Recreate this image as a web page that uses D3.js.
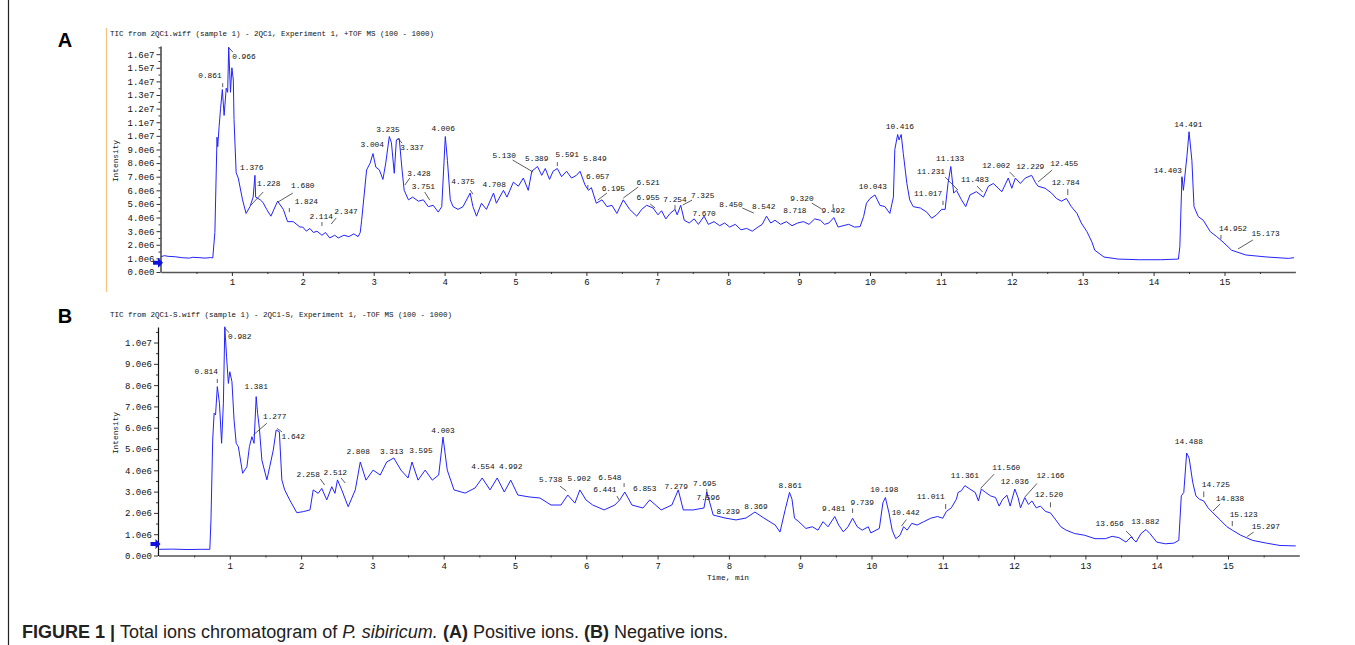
<!DOCTYPE html>
<html><head><meta charset="utf-8">
<script src="https://cdn.jsdelivr.net/npm/d3@7"></script>
<style>body{margin:0;background:#fff}svg{display:block}</style>
</head><body>
<svg id="chart" width="1355" height="645"></svg>
<script>
// ---------- DATA (time in min, intensity in units of 1e6 counts) ----------
const timeA = [0.0,0.05,0.10,0.20,0.30,0.40,0.45,0.55,0.62,0.70,0.73,0.76,0.79,0.80,0.82,0.84,0.865,0.89,0.92,0.94,0.955,0.98,1.0,1.02,1.03,1.06,1.09,1.15,1.2,1.255,1.30,1.325,1.335,1.40,1.44,1.49,1.55,1.645,1.725,1.785,1.865,1.96,2.0,2.05,2.1,2.15,2.2,2.27,2.32,2.38,2.45,2.5,2.58,2.65,2.72,2.78,2.81,2.83,2.90,2.95,2.99,3.03,3.08,3.13,3.17,3.22,3.25,3.29,3.32,3.36,3.40,3.43,3.49,3.55,3.63,3.70,3.77,3.84,3.91,3.96,4.01,4.04,4.08,4.12,4.19,4.26,4.36,4.40,4.45,4.52,4.59,4.69,4.73,4.83,4.88,4.97,5.04,5.11,5.18,5.23,5.31,5.37,5.42,5.48,5.53,5.59,5.65,5.72,5.79,5.86,5.91,5.98,6.03,6.07,6.14,6.22,6.29,6.36,6.43,6.52,6.61,6.71,6.78,6.85,6.94,7.01,7.06,7.12,7.18,7.25,7.28,7.33,7.38,7.45,7.52,7.58,7.66,7.72,7.8,7.88,7.95,8.02,8.1,8.18,8.26,8.34,8.42,8.48,8.54,8.6,8.66,8.74,8.82,8.9,8.98,9.06,9.14,9.22,9.3,9.36,9.42,9.49,9.55,9.62,9.7,9.78,9.86,9.91,9.95,10.0,10.07,10.14,10.21,10.28,10.33,10.35,10.39,10.41,10.44,10.47,10.52,10.56,10.61,10.71,10.80,10.87,10.94,11.01,11.06,11.10,11.14,11.18,11.22,11.29,11.35,11.41,11.50,11.60,11.67,11.74,11.86,11.95,12.0,12.05,12.12,12.19,12.28,12.33,12.37,12.47,12.56,12.63,12.70,12.77,12.84,12.92,12.98,13.06,13.13,13.17,13.3,13.5,13.8,14.1,14.35,14.37,14.40,14.42,14.47,14.50,14.54,14.57,14.63,14.70,14.80,14.89,14.98,15.10,15.3,15.6,15.9,15.98];
const intensityA = [1.13,1.20,1.15,1.12,1.05,1.02,1.08,1.05,1.02,1.06,1.03,2.9,9.9,9.2,10.7,12.0,13.4,11.5,13.5,13.2,16.5,13.2,15.0,14.1,11.2,7.3,6.9,5.3,4.3,4.8,5.5,7.1,5.5,5.3,5.1,4.6,4.1,5.2,4.6,3.7,3.7,3.3,3.3,3.0,3.2,2.9,3.0,2.7,2.9,2.5,2.7,2.5,2.7,2.6,2.8,2.6,2.9,3.8,7.5,8.0,8.7,7.7,7.5,6.8,8.0,9.95,9.5,7.25,9.7,9.8,7.5,6.0,5.3,5.5,5.2,5.3,4.8,4.9,4.4,4.8,9.95,8.2,5.3,4.8,4.6,4.8,5.8,4.8,4.1,5.05,4.6,5.8,5.05,6.0,5.5,6.6,6.3,6.9,6.0,7.4,7.75,7.1,7.6,6.8,7.4,7.6,7.0,7.4,6.9,7.1,7.4,6.4,6.0,6.2,5.05,5.3,4.8,4.9,4.3,5.3,4.6,4.1,4.6,4.9,4.7,4.2,4.5,3.9,4.3,4.6,4.2,4.9,3.8,3.6,3.9,3.5,4.1,3.5,3.7,3.4,3.6,3.3,3.5,3.1,3.2,3.0,3.3,3.5,4.1,3.6,3.8,3.5,3.7,3.4,3.6,3.7,3.5,3.9,3.8,3.5,3.6,4.0,3.3,3.4,3.5,3.3,3.33,4.07,5.05,5.4,5.66,4.9,4.8,4.3,5.5,9.0,10.1,9.7,10.1,8.7,6.5,5.3,4.8,4.7,4.4,3.95,4.2,4.6,4.6,6.5,7.75,5.8,6.0,5.3,4.8,5.66,5.9,5.5,6.3,6.5,5.9,6.9,6.15,6.9,6.5,6.9,7.1,6.6,6.3,6.15,5.8,5.4,5.2,5.4,4.8,4.3,3.6,2.96,2.2,1.6,1.1,0.95,0.9,0.9,0.95,1.86,7.0,6.0,8.5,10.3,8.2,4.8,4.07,3.8,2.96,2.6,2.2,1.6,1.25,1.1,1.0,1.05];

const timeB = [0.01,0.20,0.40,0.60,0.72,0.736,0.76,0.78,0.80,0.825,0.855,0.885,0.91,0.93,0.955,0.98,1.0,1.03,1.06,1.09,1.12,1.18,1.24,1.275,1.31,1.34,1.37,1.39,1.415,1.45,1.52,1.56,1.61,1.65,1.695,1.73,1.77,1.84,1.94,2.03,2.125,2.17,2.24,2.29,2.36,2.43,2.475,2.51,2.57,2.66,2.76,2.83,2.91,3.01,3.11,3.20,3.30,3.40,3.50,3.555,3.64,3.74,3.84,3.93,3.99,4.05,4.145,4.30,4.44,4.54,4.65,4.75,4.85,4.94,5.04,5.20,5.35,5.505,5.645,5.74,5.84,5.91,5.995,6.09,6.25,6.40,6.47,6.54,6.64,6.795,6.89,7.05,7.20,7.29,7.36,7.50,7.65,7.69,7.78,7.945,8.10,8.24,8.365,8.49,8.65,8.717,8.79,8.85,8.885,8.92,8.98,9.08,9.17,9.25,9.32,9.39,9.485,9.54,9.605,9.67,9.735,9.80,9.87,9.955,9.99,10.11,10.16,10.195,10.245,10.29,10.34,10.40,10.45,10.50,10.565,10.64,10.735,10.83,10.925,11.0,11.05,11.12,11.19,11.215,11.26,11.31,11.38,11.455,11.50,11.54,11.60,11.67,11.74,11.79,11.84,11.90,11.945,12.01,12.055,12.09,12.15,12.20,12.25,12.31,12.37,12.44,12.51,12.585,12.655,12.73,12.85,12.99,13.135,13.28,13.375,13.47,13.57,13.64,13.71,13.78,13.85,13.905,14.0,14.12,14.24,14.31,14.345,14.38,14.42,14.455,14.505,14.55,14.60,14.66,14.72,14.79,14.89,14.985,15.06,15.18,15.345,15.54,15.73,15.95];
const intensityB = [0.29,0.30,0.28,0.29,0.29,1.67,5.42,6.68,6.6,7.93,7.15,5.27,7.15,10.74,9.33,8.08,8.63,8.16,6.36,5.27,5.11,3.86,4.17,5.11,5.58,5.27,7.46,6.68,5.97,4.48,3.55,4.17,4.95,5.89,5.81,3.55,3.08,2.61,2.01,2.06,2.14,3.08,2.92,3.15,2.61,3.23,2.92,3.55,3.08,2.29,3.08,4.39,3.54,4.01,3.78,4.39,4.58,4.01,3.64,4.39,3.54,4.01,3.54,3.78,5.56,4.01,3.08,2.93,3.17,3.64,3.08,3.64,2.98,3.54,2.84,2.75,2.70,2.37,2.37,2.84,2.46,3.08,2.61,2.37,2.14,2.37,2.61,2.98,2.37,2.23,2.61,2.14,2.37,3.08,2.14,2.14,2.23,2.98,1.90,1.76,1.67,1.76,2.04,1.76,1.43,1.1,2.16,2.96,2.64,1.75,1.59,1.27,1.35,1.19,1.59,1.35,1.83,1.43,1.11,1.35,1.75,1.35,1.19,1.35,1.06,1.27,2.48,2.72,2.0,1.19,0.79,0.95,1.35,1.19,1.51,1.43,1.59,1.75,1.83,1.75,2.07,2.24,2.64,2.96,3.04,3.28,3.12,2.96,2.56,3.12,2.96,2.80,2.72,2.32,2.64,2.83,2.32,3.12,2.72,2.24,2.72,2.40,2.56,2.24,2.32,2.07,2.0,1.67,1.35,1.19,1.03,0.95,0.79,0.79,0.90,0.84,0.63,0.87,0.63,1.03,1.22,1.03,0.63,0.55,0.58,0.71,2.8,2.96,4.81,4.57,3.44,2.80,2.64,2.56,2.24,2.0,1.67,1.35,1.19,0.95,0.71,0.58,0.47,0.45];

// peak labels: [text, time of label centre, intensity of label centre]
const labelsA = [["0.861",0.69,14.39],["0.966",1.17,15.78],["1.376",1.28,7.63],["1.228",1.52,6.46],["1.680",2.0,6.31],["1.824",2.05,5.14],["2.114",2.26,4.04],["2.347",2.61,4.40],["3.004",2.98,9.32],["3.235",3.20,10.42],["3.337",3.54,9.10],["3.428",3.64,7.19],["3.751",3.70,6.24],["4.006",3.98,10.50],["4.375",4.26,6.61],["4.708",4.70,6.39],["5.130",4.84,8.51],["5.389",5.30,8.29],["5.591",5.73,8.59],["5.849",6.12,8.29],["6.057",6.16,6.97],["6.195",6.38,6.09],["6.521",6.87,6.53],["6.955",6.87,5.43],["7.254",7.25,5.28],["7.325",7.64,5.58],["7.670",7.66,4.26],["8.450",8.04,4.92],["8.542",8.50,4.77],["8.718",8.94,4.48],["9.320",9.04,5.36],["9.492",9.48,4.48],["10.043",10.04,6.24],["10.416",10.42,10.64],["11.017",10.82,5.72],["11.133",11.13,8.29],["11.231",10.86,7.34],["11.483",11.48,6.75],["12.002",11.78,7.78],["12.229",12.26,7.71],["12.455",12.74,7.93],["12.784",12.76,6.53],["14.403",14.20,7.41],["14.491",14.49,10.79],["14.952",15.12,3.16],["15.173",15.58,2.79]];
// leader lines: [t1, I1, t2, I2]
const leadersA = [[0.87,13.87,0.87,13.58],[0.95,16.51,1.015,16.15],[1.44,5.87,1.27,4.92],[1.86,5.80,1.65,5.14],[1.81,4.70,1.81,4.40],[2.27,3.67,2.27,3.38],[2.47,3.96,2.40,3.52],[3.34,9.83,3.40,9.47],[3.51,6.90,3.44,6.39],[3.72,5.87,3.79,5.28],[4.36,6.02,4.40,5.72],[4.96,8.22,5.25,7.34],[5.59,8.07,5.59,7.78],[6.02,6.39,6.02,6.09],[6.29,5.80,6.16,5.28],[6.73,6.24,6.52,5.43],[6.90,4.99,6.97,4.70],[7.25,4.92,7.25,4.62],[7.49,5.28,7.36,4.92],[8.20,4.70,8.36,4.33],[9.18,5.06,9.32,4.62],[9.48,4.99,9.48,4.70],[11.03,5.23,11.03,4.92],[11.06,6.97,11.24,6.02],[11.51,6.31,11.59,5.87],[11.97,7.34,12.04,6.97],[12.57,7.49,12.37,6.61],[12.79,6.09,12.79,5.65],[14.40,6.90,14.40,6.61],[14.95,2.72,14.95,2.42],[15.40,2.35,15.19,1.69]];

const labelsB = [["0.814",0.67,8.60],["0.982",1.14,10.24],["1.381",1.37,7.92],["1.277",1.63,6.49],["1.642",1.89,5.58],["2.258",2.10,3.78],["2.512",2.48,3.89],["2.808",2.80,4.86],["3.313",3.27,4.86],["3.595",3.68,4.91],["4.003",3.99,5.85],["4.554",4.55,4.15],["4.992",4.94,4.15],["5.738",5.50,3.54],["5.902",5.90,3.59],["6.548",6.33,3.64],["6.441",6.26,3.08],["6.853",6.82,3.12],["7.279",7.26,3.22],["7.695",7.66,3.36],["7.596",7.71,2.70],["8.239",7.99,2.04],["8.369",8.38,2.28],["8.861",8.86,3.26],["9.481",9.47,2.18],["9.739",9.87,2.46],["10.198",10.18,3.08],["10.442",10.48,2.0],["11.011",10.83,2.75],["11.361",11.31,3.71],["11.560",11.89,4.11],["12.036",12.01,3.46],["12.166",12.51,3.71],["12.520",12.49,2.82],["13.656",13.34,1.46],["13.882",13.84,1.58],["14.488",14.45,5.31],["14.725",14.83,3.31],["14.838",15.03,2.66],["15.123",15.22,1.92],["15.297",15.53,1.34]];
const leadersB = [[0.825,8.29,0.825,8.10],[0.93,10.68,0.99,10.46],[1.52,6.21,1.33,5.66],[1.66,5.97,1.73,5.81],[2.27,3.59,2.33,3.31],[2.56,3.64,2.62,3.40],[5.63,3.26,5.72,3.03],[6.43,2.79,6.46,2.61],[6.53,3.40,6.53,3.22],[7.69,3.12,7.69,2.93],[9.735,2.21,9.735,2.0],[10.49,1.69,10.42,1.38],[11.04,2.42,11.04,2.18],[11.72,3.82,11.53,3.15],[12.32,3.38,12.15,2.74],[12.51,2.50,12.51,2.26],[13.57,1.15,13.67,0.82],[14.66,3.01,14.66,2.74],[14.89,2.42,14.79,2.09],[15.06,1.62,15.06,1.38],[15.36,1.10,15.27,0.89]];

const xTicks = [1,2,3,4,5,6,7,8,9,10,11,12,13,14,15];
const yTicksA = d3.range(0,17,1);   // 0 ... 1.6e7
const yTicksB = d3.range(0,11,1);   // 0 ... 1.0e7
const titleA = "TIC from 2QC1.wiff (sample 1) - 2QC1, Experiment 1, +TOF MS (100 - 1000)";
const titleB = "TIC from 2QC1-S.wiff (sample 1) - 2QC1-S, Experiment 1, -TOF MS (100 - 1000)";

// ---------- DRAWING ----------
const svg = d3.select("#chart");
const MONO = "'Liberation Mono','DejaVu Sans Mono',monospace";
const BLUE = "#2323ff";

svg.append("line").attr("x1",8.5).attr("x2",8.5).attr("y1",0).attr("y2",645).attr("stroke","#222").attr("stroke-width",1.2);
svg.append("line").attr("x1",106.5).attr("x2",106.5).attr("y1",28).attr("y2",292).attr("stroke","#f4c27a").attr("stroke-width",1.2);

function sciFmt(v){ return d3.format(".1e")(v*1e6).replace("+",""); }

function panel(opts){
  const {x, y, time, inten, labels, leaders, yTicks, title, titleY, letter, letterY, arrowI, intensityY} = opts;
  const g = svg.append("g");
  const xAx = g.append("g").attr("transform",`translate(0,${y.range()[0]})`)
    .call(d3.axisBottom(x).tickValues(xTicks).tickSize(4).tickSizeOuter(0).tickPadding(3).tickFormat(d3.format("d")));
  g.append("g").attr("transform",`translate(0,${y.range()[0]})`)
    .call(d3.axisBottom(x).tickValues(d3.range(0.5,16,1)).tickSize(2).tickSizeOuter(0).tickFormat(""))
    .select(".domain").remove();
  xAx.select(".domain").attr("stroke","#555").attr("stroke-width",1.6);
  const yAx = g.append("g").attr("transform",`translate(${x.range()[0]-0.5},0)`)
    .call(d3.axisLeft(y).tickValues(yTicks).tickSize(4).tickSizeOuter(0).tickPadding(2).tickFormat(sciFmt));
  g.append("g").attr("transform",`translate(${x.range()[0]-0.5},0)`)
    .call(d3.axisLeft(y).tickValues(d3.range(0.5,y.domain()[1],1)).tickSize(2).tickSizeOuter(0).tickFormat(""))
    .select(".domain").remove();
  yAx.select(".domain").attr("stroke","#111").attr("stroke-width",1.2);
  g.selectAll(".tick text").attr("font-family",MONO).attr("font-size",9).attr("fill","#111");
  g.selectAll(".tick line").attr("stroke","#333");
  const line = d3.line().x((d,i)=>x(time[i])).y((d,i)=>y(inten[i]));
  g.append("path").datum(time).attr("d",line).attr("fill","none").attr("stroke",BLUE).attr("stroke-width",1).attr("stroke-linejoin","round");
  const ax = x(0), ay = y(arrowI);
  g.append("path").attr("d",`M${ax-8},${ay-2} L${ax-3},${ay-2} L${ax-3},${ay-5} L${ax+2},${ay} L${ax-3},${ay+5} L${ax-3},${ay+2} L${ax-8},${ay+2} Z`).attr("fill","#1010e0");
  g.selectAll(null).data(leaders).enter().append("line")
    .attr("x1",d=>x(d[0])).attr("y1",d=>y(d[1])).attr("x2",d=>x(d[2])).attr("y2",d=>y(d[3]))
    .attr("stroke","#333").attr("stroke-width",0.8);
  g.selectAll(null).data(labels).enter().append("text")
    .attr("x",d=>x(d[1])).attr("y",d=>y(d[2])).attr("text-anchor","middle").attr("dominant-baseline","central")
    .attr("font-family",MONO).attr("font-size",7.8).attr("fill","#111").text(d=>d[0]);
  g.append("text").attr("x",110).attr("y",titleY).attr("font-family",MONO).attr("font-size",7.5).attr("fill","#111").text(title);
  g.append("text").attr("transform",`translate(118,${intensityY}) rotate(-90)`).attr("text-anchor","middle")
    .attr("font-family",MONO).attr("font-size",7.8).attr("fill","#111").text("Intensity");
  g.append("text").attr("x",65).attr("y",letterY).attr("text-anchor","middle").attr("font-family","'Liberation Sans',Arial,sans-serif")
    .attr("font-weight","bold").attr("font-size",20).attr("fill","#000").text(letter);
}

const xA = d3.scaleLinear().domain([0,16]).range([161,1295.4]);
const yA = d3.scaleLinear().domain([0,16.6]).range([272,46]);
panel({x:xA, y:yA, time:timeA, inten:intensityA, labels:labelsA, leaders:leadersA, yTicks:yTicksA,
  title:titleA, titleY:36, letter:"A", letterY:47, arrowI:0.68, intensityY:161});

const xB = d3.scaleLinear().domain([0,16]).range([158.5,1299.3]);
const yB = d3.scaleLinear().domain([0,10.73]).range([555.5,327]);
panel({x:xB, y:yB, time:timeB, inten:intensityB, labels:labelsB, leaders:leadersB, yTicks:yTicksB,
  title:titleB, titleY:317, letter:"B", letterY:323, arrowI:0.54, intensityY:433});

svg.append("text").attr("x",728).attr("y",580).attr("text-anchor","middle").attr("font-family",MONO).attr("font-size",7.8).attr("fill","#111").text("Time, min");

const cap = svg.append("text").attr("x",22).attr("y",638).attr("font-family","'Liberation Sans',Arial,sans-serif").attr("font-size",18).attr("fill","#222");
cap.append("tspan").attr("font-weight","bold").text("FIGURE 1 | ");
cap.append("tspan").text("Total ions chromatogram of ");
cap.append("tspan").attr("font-style","italic").text("P. sibiricum.");
cap.append("tspan").text(" ");
cap.append("tspan").attr("font-weight","bold").text("(A)");
cap.append("tspan").text(" Positive ions. ");
cap.append("tspan").attr("font-weight","bold").text("(B)");
cap.append("tspan").text(" Negative ions.");
</script>
</body></html>
